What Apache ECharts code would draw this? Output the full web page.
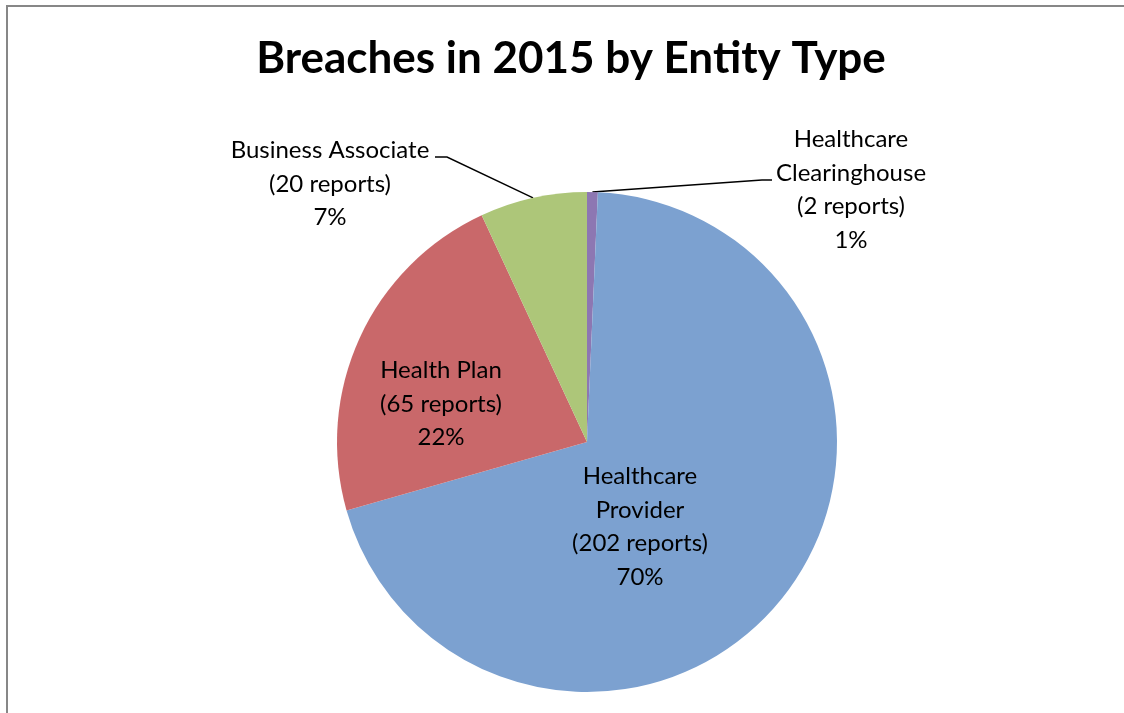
<!DOCTYPE html>
<html>
<head>
<meta charset="utf-8">
<script src="https://cdn.jsdelivr.net/npm/echarts@6/dist/echarts.min.js"></script>
<style>
  html, body { margin: 0; padding: 0; background: #fff; }
  #chart { width: 1124px; height: 713px; }
</style>
</head>
<body>
<div id="chart"></div>
<script>
// Breach reports filed in 2015, grouped by covered-entity type
const categories = ['Healthcare\nClearinghouse', 'Healthcare\nProvider', 'Health Plan', 'Business Associate'];
const reports = [2, 202, 65, 20];
const sliceColors = ['#8D77B2', '#7CA1D0', '#C9686A', '#ADC679'];

// Centre of each label block; outside labels also carry the bend and end of their leader line
const labelSpots = [
  { x: 851, y: 190, bend: [762, 180], end: [772, 180] },
  { x: 640, y: 527 },
  { x: 441, y: 404 },
  { x: 330, y: 184, bend: [447, 157], end: [435, 157] }
];

const chart = echarts.init(document.getElementById('chart'), null, { renderer: 'canvas' });

const fontFamily = 'Lato, "Open Sans", sans-serif';

chart.setOption({
  animation: false,
  backgroundColor: '#ffffff',
  title: {
    text: 'Breaches in 2015 by Entity Type',
    left: 566,
    top: 32,
    textAlign: 'center',
    textStyle: { fontFamily: fontFamily, fontWeight: 'bold', fontSize: 44, color: '#000' }
  },
  graphic: [{
    type: 'rect',
    shape: { x: 7, y: 6, width: 1200, height: 800 },
    style: { fill: 'none', stroke: '#878787', lineWidth: 2 },
    silent: true
  }],
  series: [{
    type: 'pie',
    center: [587, 442],
    radius: 250,
    startAngle: 90,
    clockwise: true,
    percentPrecision: 0,
    avoidLabelOverlap: false,
    data: categories.map((name, i) => ({
      name: name,
      value: reports[i],
      itemStyle: { color: sliceColors[i] },
      label: { position: labelSpots[i].end ? 'outside' : 'inside' },
      labelLine: { show: !!labelSpots[i].end }
    })),
    label: {
      formatter: p => p.name + '\n(' + p.value + ' reports)\n' + p.percent + '%',
      fontFamily: fontFamily,
      fontSize: 24,
      lineHeight: 33.5,
      color: '#000',
      align: 'center'
    },
    labelLine: {
      lineStyle: { color: '#000', width: 1.4 }
    },
    labelLayout: function (params) {
      const spot = labelSpots[params.dataIndex];
      const out = { x: spot.x, y: spot.y, align: 'center', verticalAlign: 'middle' };
      if (spot.end && params.labelLinePoints) {
        out.labelLinePoints = [params.labelLinePoints[0], spot.bend, spot.end];
      }
      return out;
    },
    itemStyle: { borderWidth: 0 },
    emphasis: { disabled: true }
  }]
});
</script>
</body>
</html>
